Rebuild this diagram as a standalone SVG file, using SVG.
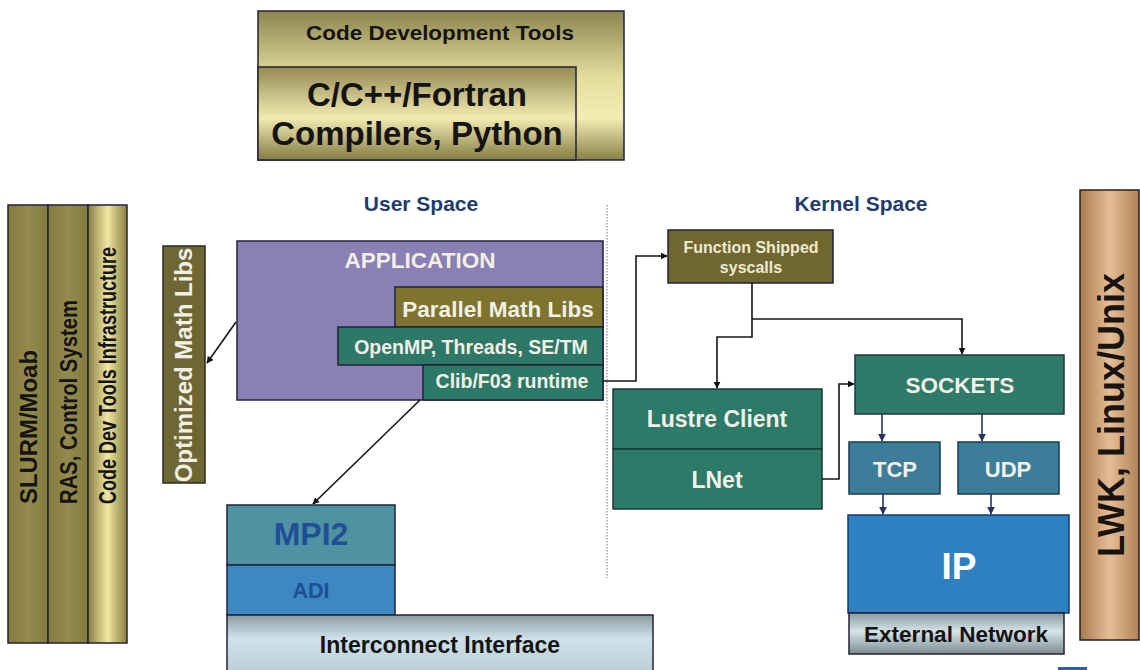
<svg xmlns="http://www.w3.org/2000/svg" width="1140" height="670" viewBox="0 0 1140 670">
  <defs>
    <linearGradient id="goldV" x1="0" y1="0" x2="0" y2="1">
      <stop offset="0" stop-color="#8d8550"/>
      <stop offset="0.45" stop-color="#e6de9e"/>
      <stop offset="0.72" stop-color="#f3edb2"/>
      <stop offset="1" stop-color="#8a8048"/>
    </linearGradient>
    <linearGradient id="goldInner" x1="0" y1="0" x2="0" y2="1">
      <stop offset="0" stop-color="#948a52"/>
      <stop offset="0.55" stop-color="#f2ebb0"/>
      <stop offset="1" stop-color="#857b45"/>
    </linearGradient>
    <linearGradient id="goldH" x1="0" y1="0" x2="1" y2="0">
      <stop offset="0" stop-color="#8a8040"/>
      <stop offset="0.5" stop-color="#efe7a2"/>
      <stop offset="1" stop-color="#8a8040"/>
    </linearGradient>
    <linearGradient id="oliveH" x1="0" y1="0" x2="1" y2="0">
      <stop offset="0" stop-color="#837a3e"/>
      <stop offset="0.5" stop-color="#938a4c"/>
      <stop offset="1" stop-color="#837a3e"/>
    </linearGradient>
    <linearGradient id="copper" x1="0" y1="0" x2="1" y2="0">
      <stop offset="0" stop-color="#a87a50"/>
      <stop offset="0.5" stop-color="#e6be96"/>
      <stop offset="1" stop-color="#b08258"/>
    </linearGradient>
    <linearGradient id="greyV" x1="0" y1="0" x2="0" y2="1">
      <stop offset="0" stop-color="#8a9aa0"/>
      <stop offset="0.45" stop-color="#d6e4e8"/>
      <stop offset="1" stop-color="#7c8c92"/>
    </linearGradient>
    <linearGradient id="icV" x1="0" y1="0" x2="0" y2="1">
      <stop offset="0" stop-color="#8c9ca2"/>
      <stop offset="0.4" stop-color="#cfe2ea"/>
      <stop offset="1" stop-color="#b8ccd4"/>
    </linearGradient>
    <marker id="arr" viewBox="0 0 10 10" refX="9" refY="5" markerWidth="7" markerHeight="7" orient="auto" markerUnits="userSpaceOnUse">
      <path d="M0,0 L10,5 L0,10 z" fill="#111"/>
    </marker>
    <marker id="arrN" viewBox="0 0 10 10" refX="9" refY="5" markerWidth="8" markerHeight="8" orient="auto" markerUnits="userSpaceOnUse">
      <path d="M0,0 L10,5 L0,10 z" fill="#26345e"/>
    </marker>
  </defs>
  <style>
    text { font-family: "Liberation Sans", Arial, sans-serif; font-weight: bold; text-anchor: middle; }
    .box { stroke: #22223a; stroke-width: 1.5; }
    .dark { fill: #141414; }
    .light { fill: #f2f0e6; }
    .navy { fill: #1f3c6e; }
    .blue { fill: #1f4f96; }
    .conn { fill: none; stroke: #151515; stroke-width: 1.6; }
    .connN { fill: none; stroke: #26345e; stroke-width: 1.6; }
  </style>

  <rect width="1140" height="670" fill="#ffffff"/>

  <!-- tool chain on top -->
  <g id="code-dev-tools">
    <rect class="box" x="258" y="11" width="366" height="149" fill="url(#goldV)"/>
    <text class="dark" x="440" y="40" font-size="21" textLength="268" lengthAdjust="spacingAndGlyphs">Code Development Tools</text>
  </g>
  <g id="compilers">
    <rect class="box" x="258" y="67" width="318" height="93" fill="url(#goldInner)"/>
    <text class="dark" x="417" y="106" font-size="33">C/C++/Fortran</text>
    <text class="dark" x="417" y="145" font-size="33">Compilers, Python</text>
  </g>

  <!-- system services column -->
  <g id="slurm">
    <rect class="box" x="8" y="205" width="40" height="438" fill="url(#oliveH)"/>
    <text class="dark" transform="translate(37,504) rotate(-90)" font-size="23" style="text-anchor:start" textLength="154" lengthAdjust="spacingAndGlyphs">SLURM/Moab</text>
  </g>
  <g id="ras">
    <rect class="box" x="48" y="205" width="40" height="438" fill="url(#oliveH)"/>
    <text class="dark" transform="translate(77,504) rotate(-90)" font-size="23" style="text-anchor:start" textLength="204" lengthAdjust="spacingAndGlyphs">RAS, Control System</text>
  </g>
  <g id="code-dev-infra">
    <rect class="box" x="88" y="205" width="39" height="438" fill="url(#goldH)"/>
    <text class="dark" transform="translate(116,504) rotate(-90)" font-size="23" style="text-anchor:start" textLength="257" lengthAdjust="spacingAndGlyphs">Code Dev Tools Infrastructure</text>
  </g>

  <g id="optimized-math-libs">
    <rect x="163" y="246" width="42" height="237" fill="#6e6734" stroke="#2a2a22" stroke-width="1.5"/>
    <text class="light" transform="translate(192,365) rotate(-90)" font-size="24">Optimized Math Libs</text>
  </g>

  <!-- region headings -->
  <text class="navy" x="421" y="211" font-size="21">User Space</text>
  <text class="navy" x="861" y="211" font-size="21">Kernel Space</text>
  <line x1="607" y1="205" x2="607" y2="578" stroke="#8a8a9c" stroke-width="1.2" stroke-dasharray="1.5 1.5"/>

  <!-- user space stack -->
  <g id="application">
    <rect class="box" x="237" y="241" width="366" height="159" fill="#8a80b4"/>
    <text class="light" x="420" y="268" font-size="22.5">APPLICATION</text>
  </g>
  <g id="parallel-math-libs">
    <rect class="box" x="395" y="287" width="208" height="40" fill="#7e7430"/>
    <text class="light" x="498" y="317" font-size="22.5">Parallel Math Libs</text>
  </g>
  <g id="openmp">
    <rect class="box" x="338" y="327" width="265" height="38" fill="#2d7867"/>
    <text class="light" x="471" y="354" font-size="19.5">OpenMP, Threads, SE/TM</text>
  </g>
  <g id="clib">
    <rect class="box" x="423" y="365" width="180" height="35" fill="#2d7867"/>
    <text class="light" x="512" y="388" font-size="19.5">Clib/F03 runtime</text>
  </g>

  <g id="mpi2">
    <rect class="box" x="227" y="505" width="168" height="60" fill="#4f93a3"/>
    <text class="blue" x="311" y="545" font-size="32">MPI2</text>
  </g>
  <g id="adi">
    <rect class="box" x="227" y="565" width="168" height="50" fill="#3b88c2"/>
    <text class="blue" x="311" y="598" font-size="21.5">ADI</text>
  </g>
  <g id="interconnect">
    <rect class="box" x="227" y="615" width="426" height="60" fill="url(#icV)"/>
    <text class="dark" x="440" y="653" font-size="23">Interconnect Interface</text>
  </g>

  <!-- kernel space stack -->
  <g id="function-shipped">
    <rect x="668" y="230" width="165" height="53" fill="#6f6630" stroke="#22223a" stroke-width="1.5"/>
    <text x="751" y="253" font-size="16" fill="#f0ead0">Function Shipped</text>
    <text x="751" y="273" font-size="16" fill="#f0ead0">syscalls</text>
  </g>
  <g id="lustre-client">
    <rect x="613" y="389" width="209" height="60" fill="#2c7a68" stroke="#1a3a30" stroke-width="1.5"/>
    <text class="light" x="717" y="427" font-size="23">Lustre Client</text>
  </g>
  <g id="lnet">
    <rect x="613" y="449" width="209" height="60" fill="#2c7a68" stroke="#1a3a30" stroke-width="1.5"/>
    <text class="light" x="717" y="488" font-size="23">LNet</text>
  </g>
  <g id="sockets">
    <rect x="855" y="355" width="209" height="59" fill="#2f7a68" stroke="#1a3a40" stroke-width="1.5"/>
    <text class="light" x="960" y="393" font-size="22.5">SOCKETS</text>
  </g>
  <g id="tcp">
    <rect x="849" y="442" width="91" height="52" fill="#3d7d9a" stroke="#1a3a50" stroke-width="1.5"/>
    <text class="light" x="895" y="477" font-size="22">TCP</text>
  </g>
  <g id="udp">
    <rect x="958" y="442" width="101" height="52" fill="#3d7d9a" stroke="#1a3a50" stroke-width="1.5"/>
    <text class="light" x="1008" y="477" font-size="22">UDP</text>
  </g>
  <g id="ip">
    <rect x="848" y="515" width="221" height="98" fill="#2f80c0" stroke="#1a3a60" stroke-width="1.5"/>
    <text x="959" y="579" font-size="37" fill="#ffffff">IP</text>
  </g>
  <g id="external-network">
    <rect class="box" x="849" y="613" width="215" height="41" fill="url(#greyV)"/>
    <text class="dark" x="956" y="642" font-size="22.5">External Network</text>
  </g>

  <g id="lwk">
    <rect x="1080" y="190" width="59" height="450" fill="url(#copper)" stroke="#2a2018" stroke-width="1.5"/>
    <text transform="translate(1124,415) rotate(-90)" font-size="36" fill="#1a1410">LWK, Linux/Unix</text>
  </g>

  <rect x="1058" y="667" width="29" height="3" fill="#2a60b0"/>

  <!-- connectors -->
  <g id="connectors">
    <path class="conn" d="M236,322 L207,363" marker-end="url(#arr)"/>
    <path class="conn" d="M420,400 L313,504" marker-end="url(#arr)"/>
    <path class="conn" d="M603,381 H636 V256 H667" marker-end="url(#arr)"/>
    <path class="conn" d="M752,283 V337 H717 V388" marker-end="url(#arr)"/>
    <path class="conn" d="M752,319 H962 V354" marker-end="url(#arr)"/>
    <path class="conn" d="M822,479 H839 V384 H854" marker-end="url(#arr)"/>
    <path class="connN" d="M882,414 V441" marker-end="url(#arrN)"/>
    <path class="connN" d="M982,414 V441" marker-end="url(#arrN)"/>
    <path class="connN" d="M883,494 V514" marker-end="url(#arrN)"/>
    <path class="connN" d="M991,494 V514" marker-end="url(#arrN)"/>
  </g>
</svg>
